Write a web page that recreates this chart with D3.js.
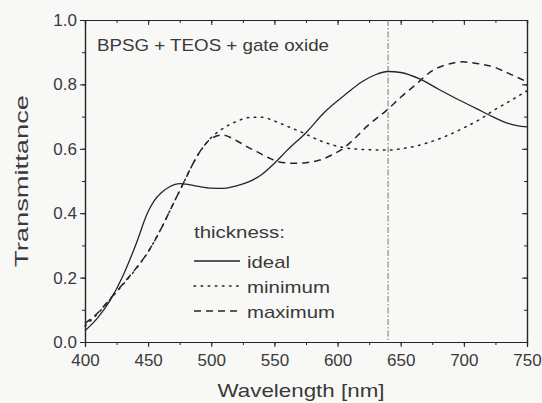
<!DOCTYPE html>
<html>
<head>
<meta charset="utf-8">
<script src="https://cdn.jsdelivr.net/npm/d3@7"></script>
<style>
  body { margin: 0; background: #f8f8f6; }
  svg { display: block; }
  text { font-family: "Liberation Sans", Arial, sans-serif; fill: #3a3a3a; }
</style>
</head>
<body>
<div id="chart"></div>
<script>
// Series values (wavelength nm, transmittance)
const idealWl = [400, 410, 420, 430, 440, 450, 455, 460, 467, 475, 480, 490, 500, 510, 520, 530, 540, 550, 560, 575, 590, 605, 620, 630, 640, 650, 665, 680, 697, 710, 720, 735, 742, 750];
const idealT  = [0.035, 0.075, 0.13, 0.205, 0.3, 0.405, 0.44, 0.462, 0.482, 0.492, 0.49, 0.483, 0.478, 0.477, 0.485, 0.498, 0.52, 0.555, 0.595, 0.65, 0.715, 0.765, 0.81, 0.83, 0.84, 0.837, 0.817, 0.785, 0.75, 0.725, 0.705, 0.679, 0.672, 0.668];

const minWl = [400, 410, 420, 430, 440, 450, 460, 470, 475, 480, 485, 490, 495, 500, 510, 520, 530, 540, 550, 560, 573, 585, 602, 620, 639, 655, 670, 685, 702, 715, 723, 735, 750];
const minT  = [0.05, 0.088, 0.133, 0.178, 0.225, 0.28, 0.35, 0.43, 0.47, 0.51, 0.55, 0.585, 0.613, 0.635, 0.665, 0.685, 0.697, 0.698, 0.686, 0.67, 0.649, 0.627, 0.606, 0.598, 0.596, 0.603, 0.617, 0.638, 0.669, 0.697, 0.718, 0.745, 0.78];

const maxWl = [400, 410, 420, 430, 440, 450, 460, 470, 475, 480, 485, 490, 495, 500, 509, 520, 530, 536, 545, 553, 565, 575, 586, 595, 604, 613, 623, 639, 650, 660, 676, 690, 699, 710, 723, 735, 750];
const maxT  = [0.058, 0.09, 0.135, 0.18, 0.227, 0.28, 0.35, 0.43, 0.47, 0.51, 0.55, 0.585, 0.613, 0.632, 0.643, 0.625, 0.603, 0.591, 0.573, 0.56, 0.555, 0.557, 0.565, 0.58, 0.6, 0.63, 0.669, 0.72, 0.76, 0.793, 0.845, 0.865, 0.87, 0.865, 0.855, 0.835, 0.808];

const seriesNames = ["ideal", "minimum", "maximum"];
const seriesDash = ["none", "1.6,5.5", "7,5"];

const xTicks = [400, 450, 500, 550, 600, 650, 700, 750];
const yTicks = [0.0, 0.2, 0.4, 0.6, 0.8, 1.0];
const markerWl = 640;

const titleText = "BPSG + TEOS + gate oxide";
const legendTitle = "thickness:";
const xLabel = "Wavelength [nm]";
const yLabel = "Transmittance";

const W = 542, H = 403;
const margin = { top: 20, right: 15, bottom: 61, left: 85 };
const width = W - margin.left - margin.right;
const height = H - margin.top - margin.bottom;

const svg = d3.select("#chart").append("svg")
    .attr("width", W).attr("height", H);

const g = svg.append("g")
    .attr("transform", `translate(${margin.left},${margin.top})`);

const x = d3.scaleLinear().domain([400, 750]).range([0, width]);
const y = d3.scaleLinear().domain([0, 1]).range([height, 0]);

const ink = "#252525";

// minor ticks
const xMinor = d3.range(400, 751, 25);
const yMinor = d3.range(0, 1.001, 0.1);

function styleAxis(sel) {
    sel.select(".domain").attr("stroke", ink).attr("stroke-width", 1.2);
    sel.selectAll(".tick line").attr("stroke", ink).attr("stroke-width", 1);
    sel.selectAll(".tick text").style("font-size", "17px").attr("fill", "#4a4a4a");
}

// bottom
g.append("g").attr("transform", `translate(0,${height})`)
    .call(d3.axisBottom(x).tickValues(xMinor).tickSize(3).tickFormat(""))
    .call(styleAxis);
g.append("g").attr("transform", `translate(0,${height})`)
    .call(d3.axisBottom(x).tickValues(xTicks).tickSize(5).tickPadding(7).tickFormat(d3.format("d")))
    .call(styleAxis);
// top
g.append("g")
    .call(d3.axisTop(x).tickValues(xMinor).tickSize(-3).tickFormat(""))
    .call(styleAxis);
g.append("g")
    .call(d3.axisTop(x).tickValues(xTicks).tickSize(-5).tickFormat(""))
    .call(styleAxis);
// left
g.append("g")
    .call(d3.axisLeft(y).tickValues(yMinor).tickSize(3).tickFormat(""))
    .call(styleAxis);
g.append("g")
    .call(d3.axisLeft(y).tickValues(yTicks).tickSize(5).tickPadding(3).tickFormat(d3.format(".1f")))
    .call(styleAxis);
// right
g.append("g").attr("transform", `translate(${width},0)`)
    .call(d3.axisRight(y).tickValues(yMinor).tickSize(-3).tickFormat(""))
    .call(styleAxis);
g.append("g").attr("transform", `translate(${width},0)`)
    .call(d3.axisRight(y).tickValues(yTicks).tickSize(-5).tickFormat(""))
    .call(styleAxis);

// vertical dash-dot marker
g.append("line")
    .attr("x1", x(markerWl)).attr("x2", x(markerWl))
    .attr("y1", y(1)).attr("y2", y(0))
    .attr("stroke", "#666").attr("stroke-width", 0.9)
    .attr("stroke-dasharray", "6,2,1.5,2");

// curves
const line = d3.line()
    .x(d => x(d[0]))
    .y(d => y(d[1]))
    .curve(d3.curveMonotoneX);

const series = [
    d3.zip(idealWl, idealT),
    d3.zip(minWl, minT),
    d3.zip(maxWl, maxT)
];

series.forEach((s, i) => {
    g.append("path")
        .datum(s)
        .attr("fill", "none")
        .attr("stroke", ink)
        .attr("stroke-width", i === 0 ? 1.3 : 1.5)
        .attr("stroke-linecap", i === 1 ? "round" : "butt")
        .attr("stroke-dasharray", seriesDash[i] === "none" ? null : seriesDash[i])
        .attr("d", line);
});

// title inside plot
g.append("text")
    .attr("x", 12).attr("y", 31)
    .style("font-size", "17px")
    .attr("textLength", 232).attr("lengthAdjust", "spacingAndGlyphs")
    .text(titleText);

// legend
const lg = g.append("g").attr("transform", `translate(${194 - margin.left},${238 - margin.top})`);
lg.append("text").attr("x", 0).attr("y", 0)
    .style("font-size", "17px")
    .attr("textLength", 91).attr("lengthAdjust", "spacingAndGlyphs")
    .text(legendTitle);
const legendWidths = [43, 83, 88];
seriesNames.forEach((name, i) => {
    const yy = 23 + i * 25;
    lg.append("line")
        .attr("x1", 0).attr("x2", 46)
        .attr("y1", yy).attr("y2", yy)
        .attr("stroke", ink).attr("stroke-width", i === 0 ? 1.3 : 1.5)
        .attr("stroke-linecap", i === 1 ? "round" : "butt")
        .attr("stroke-dasharray", seriesDash[i] === "none" ? null : seriesDash[i]);
    lg.append("text")
        .attr("x", 53).attr("y", yy + 6.5)
        .style("font-size", "17px")
        .attr("textLength", legendWidths[i]).attr("lengthAdjust", "spacingAndGlyphs")
        .text(name);
});

// axis titles
svg.append("text")
    .attr("x", margin.left + width / 2 - 5).attr("y", 397)
    .attr("text-anchor", "middle")
    .style("font-size", "19px")
    .attr("textLength", 167).attr("lengthAdjust", "spacingAndGlyphs")
    .text(xLabel);

svg.append("text")
    .attr("transform", `translate(28,${margin.top + height / 2}) rotate(-90)`)
    .attr("text-anchor", "middle")
    .style("font-size", "19px")
    .attr("textLength", 172).attr("lengthAdjust", "spacingAndGlyphs")
    .text(yLabel);
</script>
</body>
</html>
